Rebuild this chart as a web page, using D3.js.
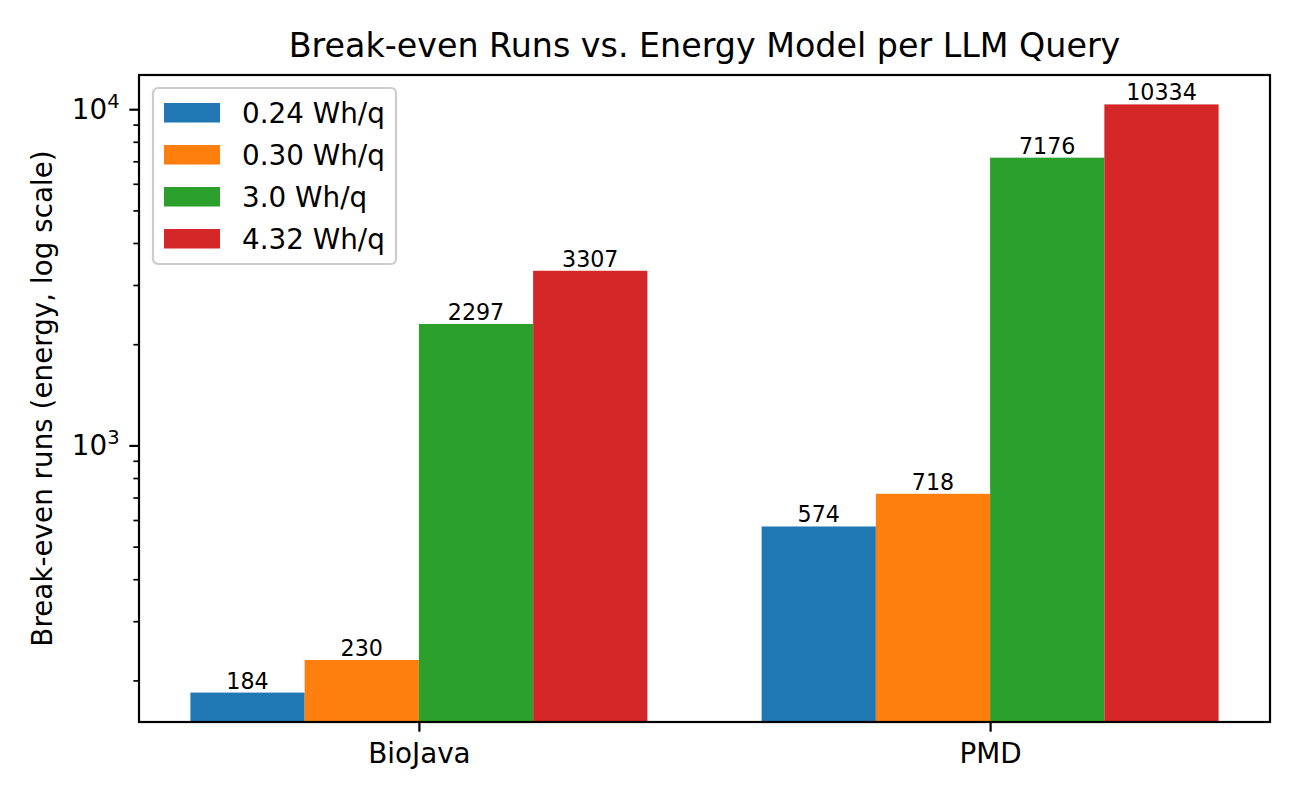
<!DOCTYPE html>
<html>
<head>
<meta charset="utf-8">
<script src="https://cdn.jsdelivr.net/npm/d3@7"></script>
<style>
  body { margin: 0; background: #fff; }
  svg { font-family: "DejaVu Sans", sans-serif; }
</style>
</head>
<body>
<div id="chart"></div>
<script>
// data
var categories = ["BioJava", "PMD"];
var seriesNames = ["0.24 Wh/q", "0.30 Wh/q", "3.0 Wh/q", "4.32 Wh/q"];
var vals024 = [184, 574];
var vals030 = [230, 718];
var vals30 = [2297, 7176];
var vals432 = [3307, 10334];
var majorTicks = [1000, 10000];
var minorTicks = [200, 300, 400, 500, 600, 700, 800, 900, 2000, 3000, 4000, 5000, 6000, 7000, 8000, 9000];

var seriesValues = [vals024, vals030, vals30, vals432];
var colors = ["#1f77b4", "#ff7f0e", "#2ca02c", "#d62728"];

var width = 1300, height = 800;
var plotLeft = 139, plotRight = 1270, plotTop = 75, plotBottom = 722;
var barW = 0.2;

var svg = d3.select("#chart").append("svg")
  .attr("width", width)
  .attr("height", height);

// x in category units, like matplotlib's 5% margin
var x = d3.scaleLinear()
  .domain([-0.49, 1.49])
  .range([plotLeft, plotRight]);

// log y with 5% margin in log space
var allVals = d3.merge(seriesValues);
var lo = Math.log10(d3.min(allVals)), hi = Math.log10(d3.max(allVals));
var m = (hi - lo) * 0.05;
var y = d3.scaleLog()
  .domain([Math.pow(10, lo - m), Math.pow(10, hi + m)])
  .range([plotBottom, plotTop]);

// bars
seriesValues.forEach(function(vals, j) {
  var g = svg.append("g");
  g.selectAll("rect")
    .data(vals)
    .enter()
    .append("rect")
    .attr("x", function(d, i) { return x(i + (j - 2) * barW); })
    .attr("y", function(d) { return y(d); })
    .attr("width", x(barW) - x(0))
    .attr("height", function(d) { return plotBottom - y(d); })
    .attr("fill", colors[j]);

  g.selectAll("text")
    .data(vals)
    .enter()
    .append("text")
    .text(function(d) { return d; })
    .attr("x", function(d, i) { return x(i + (j - 1.5) * barW); })
    .attr("y", function(d) { return y(d) - 4; })
    .attr("font-size", "22.2px")
    .attr("fill", "black")
    .attr("text-anchor", "middle");
});

// axes
var xAxis = d3.axisBottom(x)
  .tickValues([0, 1])
  .tickFormat(function(d) { return categories[d]; })
  .tickSizeOuter(0)
  .tickSize(9.7)
  .tickPadding(9.7);

var gx = svg.append("g")
  .attr("transform", "translate(0," + plotBottom + ")")
  .call(xAxis);
gx.select(".domain").remove();
gx.selectAll("line").attr("stroke", "black").attr("stroke-width", 2.2);
gx.selectAll("text")
  .attr("font-size", "27.8px")
  .attr("font-family", "DejaVu Sans")
  .attr("fill", "black")
  .attr("dy", "0.76em")
  .attr("y", 19.4);

var gyMinor = svg.append("g")
  .attr("transform", "translate(" + plotLeft + ",0)")
  .call(d3.axisLeft(y).tickValues(minorTicks).tickSize(5.6).tickFormat(""));
gyMinor.select(".domain").remove();
gyMinor.selectAll("line").attr("stroke", "black").attr("stroke-width", 1.7);

var gy = svg.append("g")
  .attr("transform", "translate(" + plotLeft + ",0)")
  .call(d3.axisLeft(y).tickValues(majorTicks).tickSize(9.7).tickPadding(9.7).tickFormat(""));
gy.select(".domain").remove();
gy.selectAll("line").attr("stroke", "black").attr("stroke-width", 2.2);
gy.selectAll(".tick").each(function(d) {
  var t = d3.select(this).append("text")
    .attr("x", -19.4)
    .attr("y", 0)
    .attr("dy", "0.32em")
    .attr("text-anchor", "end")
    .attr("font-size", "27.8px")
    .attr("font-family", "DejaVu Sans")
    .attr("fill", "black");
  t.append("tspan").text("10");
  t.append("tspan")
    .text(Math.round(Math.log10(d)))
    .attr("font-size", "19.5px")
    .attr("dy", "-0.55em");
});

// frame
svg.append("rect")
  .attr("x", plotLeft)
  .attr("y", plotTop)
  .attr("width", plotRight - plotLeft)
  .attr("height", plotBottom - plotTop)
  .attr("fill", "none")
  .attr("stroke", "black")
  .attr("stroke-width", 2.2);

// title and y label
svg.append("text")
  .attr("x", (plotLeft + plotRight) / 2)
  .attr("y", 57)
  .attr("text-anchor", "middle")
  .attr("font-size", "33.3px")
  .attr("fill", "black")
  .text("Break-even Runs vs. Energy Model per LLM Query");

svg.append("text")
  .attr("transform", "translate(52," + (plotTop + plotBottom) / 2 + ") rotate(-90)")
  .attr("text-anchor", "middle")
  .attr("font-size", "27.8px")
  .attr("fill", "black")
  .text("Break-even runs (energy, log scale)");

// legend
var legend = svg.append("g").attr("transform", "translate(153,88)");
legend.append("rect")
  .attr("width", 243)
  .attr("height", 176)
  .attr("rx", 5)
  .attr("fill", "white")
  .attr("fill-opacity", 0.8)
  .attr("stroke", "#cccccc")
  .attr("stroke-width", 2.2);

var items = legend.selectAll("g.item")
  .data(seriesNames)
  .enter()
  .append("g")
  .attr("class", "item")
  .attr("transform", function(d, i) { return "translate(0," + (25 + i * 42) + ")"; });
items.append("rect")
  .attr("x", 11)
  .attr("y", -10)
  .attr("width", 56)
  .attr("height", 19.5)
  .attr("fill", function(d, i) { return colors[i]; });
items.append("text")
  .attr("x", 89)
  .attr("y", 0)
  .attr("dy", "0.36em")
  .attr("font-size", "27.8px")
  .attr("fill", "black")
  .text(function(d) { return d; });
</script>
</body>
</html>
